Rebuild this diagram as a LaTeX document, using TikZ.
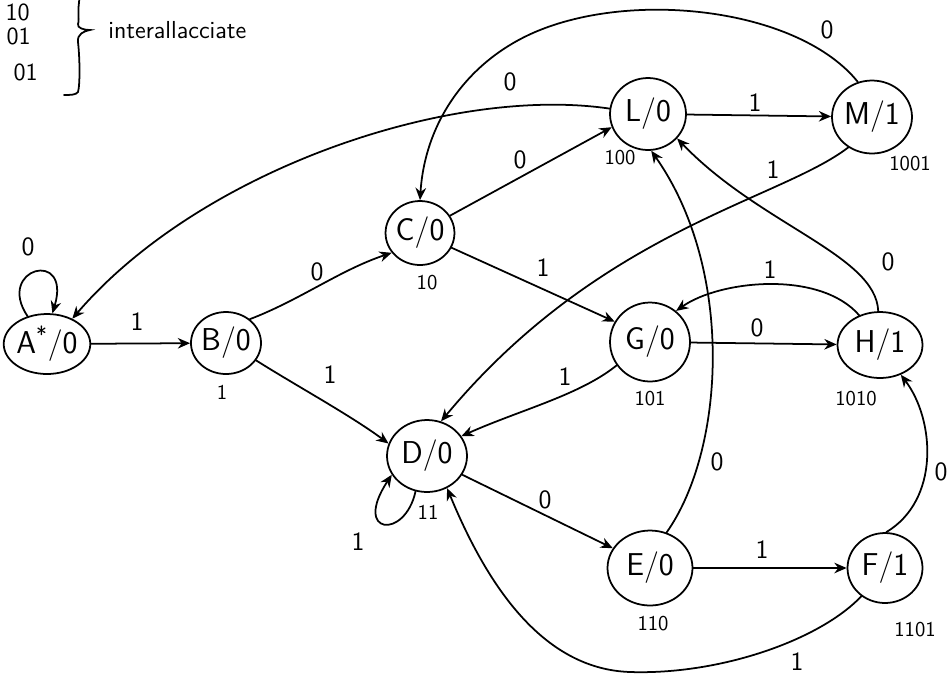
\documentclass[tikz,border=0pt]{standalone}
\usetikzlibrary{arrows.meta,shapes.geometric}
\begin{document}
\tikzset{
  st/.style={draw, ellipse, line width=1pt, inner sep=0pt, font=\sffamily\fontsize{18}{20}\selectfont},
  arr/.style={-{Stealth[length=7pt,width=6pt]}, line width=1pt, line cap=round, line join=round},
  lbl/.style={font=\sffamily\fontsize{15}{17}\selectfont, inner sep=0pt},
  code/.style={font=\sffamily\fontsize{12}{14}\selectfont, inner sep=0pt},
  note/.style={font=\sffamily\fontsize{14}{16}\selectfont, inner sep=0pt},
}
\begin{tikzpicture}[x=0.02cm,y=-0.02cm]
\useasboundingbox (0,0) rectangle (950,674);

% states
\node[st, minimum width=1.54cm, minimum height=1.2cm]  (A) at (47,344)  {A\textsuperscript{*}/0};
\node[st, minimum width=1.4cm,  minimum height=1.24cm] (B) at (226,343) {B/0};
\node[st, minimum width=1.32cm, minimum height=1.28cm] (C) at (420,233) {C/0};
\node[st, minimum width=1.52cm, minimum height=1.44cm] (L) at (648,114) {L/0};
\node[st, minimum width=1.6cm,  minimum height=1.46cm] (M) at (872,117) {M/1};
\node[st, minimum width=1.6cm,  minimum height=1.58cm] (G) at (650,342) {G/0};
\node[st, minimum width=1.7cm,  minimum height=1.32cm] (H) at (880,345) {H/1};
\node[st, minimum width=1.6cm,  minimum height=1.44cm] (D) at (427,456) {D/0};
\node[st, minimum width=1.7cm,  minimum height=1.5cm]  (E) at (650,568) {E/0};
\node[st, minimum width=1.5cm,  minimum height=1.4cm]  (F) at (885,568) {F/1};

% state codes
\node[code] (cB) at (222,392) {1};
\node[code] (cC) at (427,283) {10};
\node[code] (cL) at (620,158) {100};
\node[code] (cM) at (910,164) {1001};
\node[code] (cG) at (650,399) {101};
\node[code] (cH) at (856,399) {1010};
\node[code] (cD) at (428,512) {11};
\node[code] (cE) at (653,624) {110};
\node[code] (cF) at (915,630) {1101};

% transitions
\draw[arr] (A.125) .. controls (-5,268) and (72,248) .. (A.80);
\node[lbl] (lAA) at (28,247) {0};
\draw[arr] (A) -- (B);
\node[lbl] (lAB) at (137,322) {1};
\draw[arr] (B.45) .. controls (300,300) and (340,270) .. (C.215);
\node[lbl] (lBC) at (317,272) {0};
\draw[arr] (B.-30) .. controls (295,385) and (350,415) .. (D.162);
\node[lbl] (lBD) at (330,375) {1};
\draw[arr] (C.30) -- (L.200);
\node[lbl] (lCL) at (520,160) {0};
\draw[arr] (C.-25) -- (G.150);
\node[lbl] (lCG) at (543,268) {1};
\draw[arr] (L.172) .. controls (450,85) and (200,170) .. (A.45);
\node[lbl] (lLA) at (510,82) {0};
\draw[arr] (M.112) .. controls (800,10) and (640,-10) .. (540,30)
           .. controls (470,58) and (425,120) .. (C.north);
\node[lbl] (lMC) at (827,30) {0};
\draw[arr] (L) -- (M);
\node[lbl] (lLM) at (755,103) {1};
\draw[arr] (M.232) .. controls (780,200) and (600,230) .. (D.68);
\node[lbl] (lMD) at (773,170) {1};
\draw[arr] (G) -- (H);
\node[lbl] (lGH) at (757,328) {0};
\draw[arr] (H.125) .. controls (820,270) and (720,280) .. (G.50);
\node[lbl] (lHG) at (770,270) {1};
\draw[arr] (G.215) .. controls (580,395) and (520,410) .. (D.30);
\node[lbl] (lGD) at (565,377) {1};
\draw[arr] (E.65) .. controls (725,450) and (735,270) .. (L.-85);
\node[lbl] (lEL) at (717,462) {0};
\draw[arr] (H.93) .. controls (876,255) and (760,225) .. (L.-40);
\node[lbl] (lHL) at (888,262) {0};
\draw[arr] (D.-108) .. controls (405,540) and (352,535) .. (D.-152);
\node[lbl] (lDD) at (358,542) {1};
\draw[arr] (D.-28) -- (E.152);
\node[lbl] (lDE) at (545,500) {0};
\draw[arr] (E) -- (F);
\node[lbl] (lEF) at (762,550) {1};
\draw[arr] (F.88) .. controls (940,500) and (935,420) .. (H.-55);
\node[lbl] (lFH) at (941,472) {0};
\draw[arr] (F.-130) .. controls (820,640) and (720,675) .. (630,672)
           .. controls (540,669) and (485,580) .. (D.-58);
\node[lbl] (lFD) at (797,662) {1};

% note at top left
\node[note, anchor=east] (s1) at (30,12) {10};
\node[note, anchor=east] (s2) at (31,36) {01};
\node[note, anchor=east] (s3) at (38,72) {01};
\draw[line width=1pt, line cap=round] (82,-10) .. controls (76,5) and (80,20) .. (78,24)
   .. controls (77,28) and (84,30) .. (90,30)
   .. controls (84,31) and (77,34) .. (78,42)
   .. controls (80,60) and (80,85) .. (78,92)
   .. controls (76,95) and (70,95) .. (64,95);
\node[note, anchor=west] (nt) at (108,30) {interallacciate};
\end{tikzpicture}
\end{document}
